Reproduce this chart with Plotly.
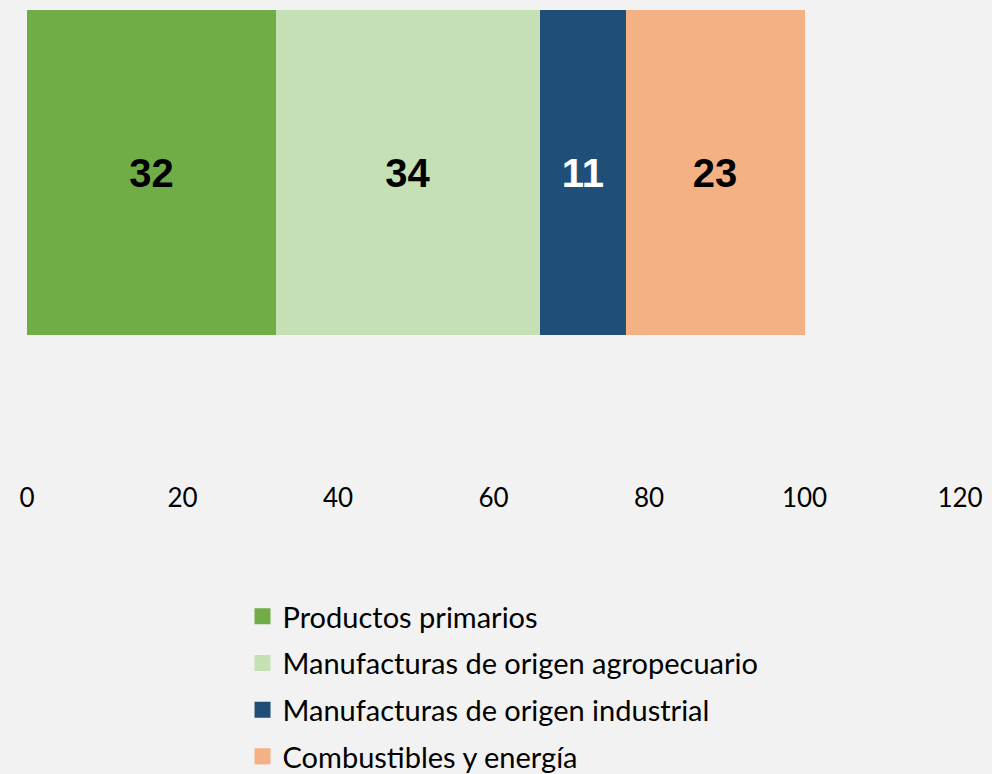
import plotly.graph_objects as go

# export share by product group (%)
categories = ["Productos primarios", "Manufacturas de origen agropecuario",
              "Manufacturas de origen industrial", "Combustibles y energía"]
values = [32, 34, 11, 23]
colors = ["#70AD47", "#C5E0B4", "#1F4E79", "#F4B183"]
label_colors = ["#000000", "#000000", "#FFFFFF", "#000000"]
x_ticks = [0, 20, 40, 60, 80, 100, 120]

fig = go.Figure()
for name, v, c, lc in zip(categories, values, colors, label_colors):
    fig.add_trace(go.Bar(
        x=[v], y=[0], orientation="h", name=name,
        marker=dict(color=c, line=dict(width=0)),
        width=1,
        text=[str(v)], textposition="inside", insidetextanchor="middle",
        textangle=0,
        textfont=dict(family="Liberation Sans", size=40, color=lc, weight="bold"),
        showlegend=False,
        hoverinfo="x+name",
    ))
    # legend-only entry with a bigger square swatch
    fig.add_trace(go.Scatter(
        x=[None], y=[None], mode="markers", name=name,
        marker=dict(symbol="square", size=17, color=c),
        legendgroup=name, hoverinfo="skip",
    ))

fig.update_layout(
    barmode="stack",
    width=992, height=774,
    margin=dict(l=27, r=32, t=10, b=294, autoexpand=False),
    paper_bgcolor="#F2F2F2",
    plot_bgcolor="#F2F2F2",
    font=dict(family="Lato", size=26, color="#000000"),
    xaxis=dict(range=[0, 120], tickvals=x_ticks, showgrid=False, zeroline=False,
               showline=False, ticks="", tickfont=dict(size=26), tickangle=0),
    yaxis=dict(range=[-0.946, 0.5], visible=False),
    showlegend=True,
    legend=dict(x=0.231, y=-0.236, xanchor="left", yanchor="top",
                traceorder="grouped", tracegroupgap=6,
                font=dict(size=29), bgcolor="rgba(0,0,0,0)"),
)

fig.write_html("out.html", config={"displayModeBar": False},
               post_script="document.body.style.margin='0';")
